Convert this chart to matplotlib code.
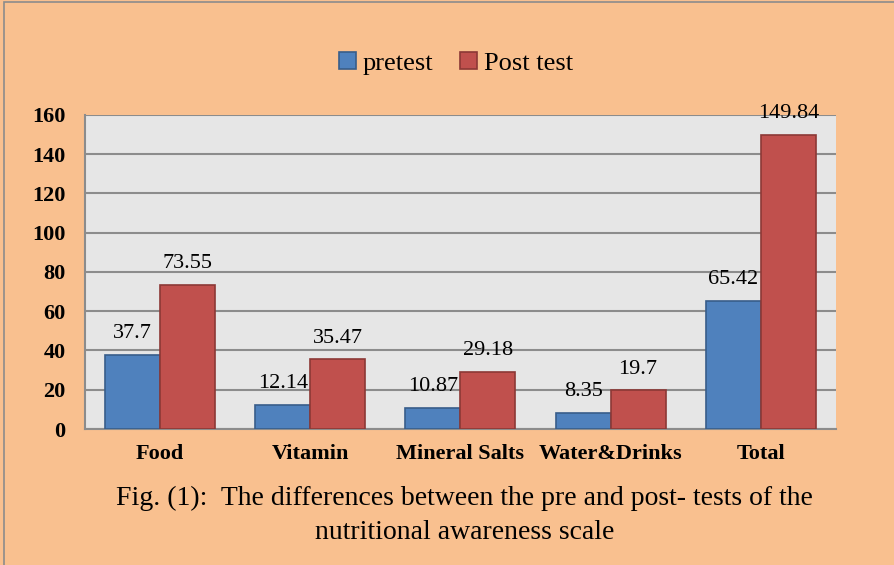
import numpy as np
import matplotlib.pyplot as plt
from matplotlib.patches import Rectangle

categories = ["Food", "Vitamin", "Mineral Salts", "Water&Drinks", "Total"]
pretest = [37.7, 12.14, 10.87, 8.35, 65.42]
posttest = [73.55, 35.47, 29.18, 19.7, 149.84]
series_names = ["pretest", "Post test"]
yticks = [0, 20, 40, 60, 80, 100, 120, 140, 160]

peach = "#F9C08F"
plt.rcParams['font.family'] = ['Liberation Serif', 'DejaVu Serif']

fig = plt.figure(figsize=(8.94, 5.65), dpi=100)
fig.patch.set_facecolor(peach)
fig.patches.append(Rectangle((4 / 894, -0.1), 1.2, 1.1 - 2 / 565, transform=fig.transFigure,
                             facecolor='none', edgecolor='#8c8c8c', linewidth=1.2))

ax = fig.add_axes([0.095, 0.2407, 0.84, 0.5558])
ax.set_facecolor("#E6E6E6")

x = np.arange(len(categories))
w = 0.366
b1 = ax.bar(x - w / 2, pretest, w, color="#4F81BD", edgecolor="#385D8A", linewidth=1.2,
            label=series_names[0], zorder=3)
b2 = ax.bar(x + w / 2, posttest, w, color="#C0504D", edgecolor="#8C3836", linewidth=1.2,
            label=series_names[1], zorder=3)

for bars, vals in ((b1, pretest), (b2, posttest)):
    for r, v in zip(bars, vals):
        ax.annotate(f"{v:g}", (r.get_x() + r.get_width() / 2, v), xytext=(0, 8.5),
                    textcoords='offset points', ha='center', va='bottom', fontsize=16)

ax.set_xlim(-0.5, len(categories) - 0.5)
ax.set_ylim(0, 160)
ax.set_yticks(yticks)
ax.yaxis.grid(True, color="#8c8c8c", linewidth=1.5, zorder=1)
ax.set_axisbelow(True)
ax.set_xticks(x)
ax.set_xticklabels(categories, fontweight='bold', fontsize=16)
ax.tick_params(axis='both', length=0, labelsize=16)
ax.tick_params(axis='x', pad=11)
ax.tick_params(axis='y', pad=14)
for lbl in ax.get_yticklabels():
    lbl.set_fontweight('bold')
for s in ['top', 'right']:
    ax.spines[s].set_visible(False)
for s in ['left', 'bottom']:
    ax.spines[s].set_color("#8c8c8c")
    ax.spines[s].set_linewidth(1.5)

fig.legend(loc='center', bbox_to_anchor=(0.51, 0.888), ncol=2, frameon=False, fontsize=19,
           handlelength=0.65, handleheight=0.65, handletextpad=0.25, columnspacing=1.0)

fig.text(0.52, 0.118, "Fig. (1):  The differences between the pre and post- tests of the",
         ha='center', va='center', fontsize=20)
fig.text(0.52, 0.058, "nutritional awareness scale", ha='center', va='center', fontsize=20)

plt.savefig("out.png", dpi=100, facecolor=peach)
